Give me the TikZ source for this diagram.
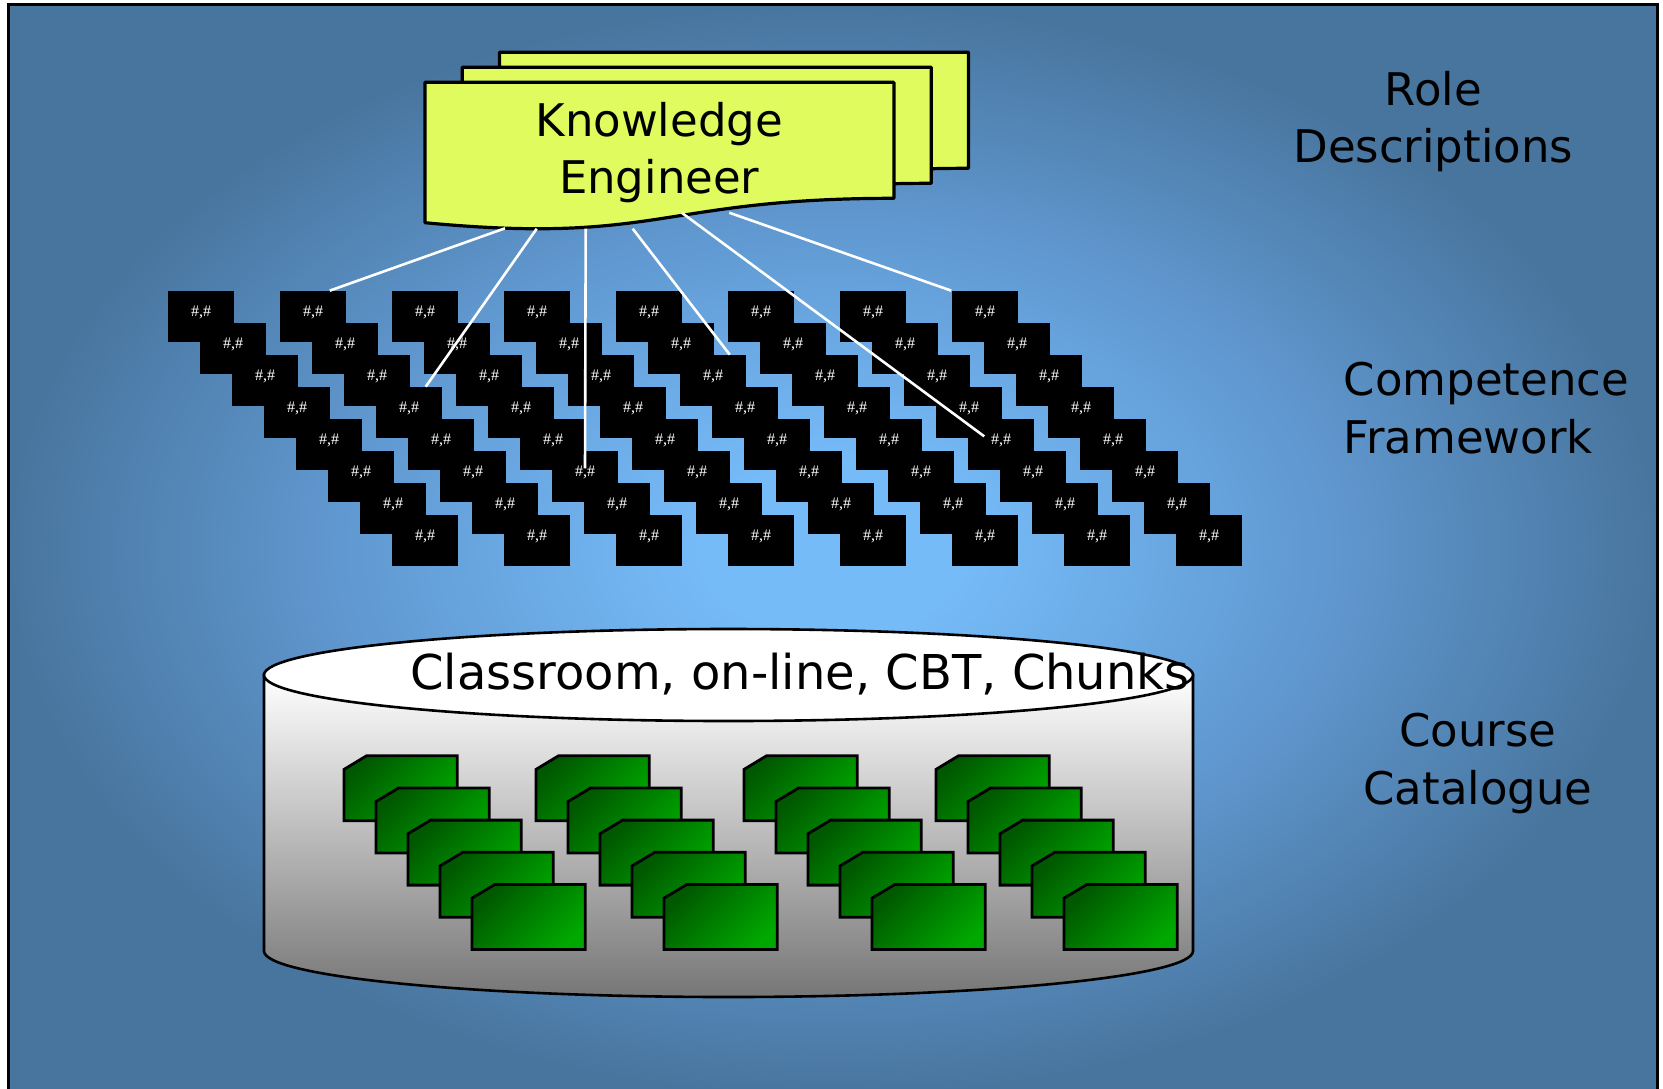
\documentclass[tikz,border=0pt]{standalone}
\usepackage{fontspec}
\setmainfont{DejaVu Sans}
\newfontfamily\hashfont{Liberation Serif}
\usetikzlibrary{%
  calc,% wg. ($(a)+(b)$)
  positioning%
}
\definecolor{bgdark}{RGB}{72,117,158}
\definecolor{bgmid}{RGB}{96,152,208}
\definecolor{bglight}{RGB}{117,187,248}
\definecolor{kefill}{RGB}{223,251,94}
\definecolor{carddark}{RGB}{0,88,0}
\definecolor{cardlight}{RGB}{0,168,0}
\definecolor{cylbottom}{RGB}{118,118,118}
% the path box covers 25bp to 75bp of a shading
\pgfdeclareradialshading{bgglow}{\pgfpoint{0bp}{0bp}}{%
  color(0bp)=(bglight); color(4bp)=(bglight); color(15bp)=(bgmid); color(25bp)=(bgdark); color(50bp)=(bgdark)}
\pgfdeclareverticalshading{cylgrad}{100bp}{%
  color(0bp)=(cylbottom); color(25bp)=(cylbottom); color(75bp)=(white); color(100bp)=(white)}
\pgfdeclarehorizontalshading{cardgrad}{100bp}{%
  color(0bp)=(carddark); color(25bp)=(carddark); color(75bp)=(cardlight); color(100bp)=(cardlight)}

\begin{document}
\begin{tikzpicture}[
    x=0.5pt, y=-0.5pt,
    cfbox/.style={fill=black, minimum width=33.35pt, minimum height=25.35pt, inner sep=0pt},
    hashtag/.style={text=white, font=\hashfont\fontsize{8pt}{8pt}\selectfont, inner sep=0pt, yshift=2pt},
    spoke/.style={draw=white, line width=1.3pt},
    page/.style={draw=black, fill=kefill, line width=1.6pt, line join=round},
    card/.style={draw=black, line width=1.4pt, shade, shading=cardgrad, shading angle=-45},
    heading/.style={font=\fontsize{22.5pt}{28.75pt}\selectfont, inner sep=0pt}
  ]
  % draw background
  \useasboundingbox (0,0) rectangle (1663,1088);
  \fill[white] (0,0) rectangle (1663,1088);
  \shade[shading=bgglow] (8,4) rectangle (1657,1096);
  \draw[line width=1.5pt] (8,4) rectangle (1657,1096);

  % draw role description pages
  \foreach \k in {2,1,0}{
    \draw[page, shift={(424.9+37.3*\k, 82.3-15*\k)}]
      (0,0) -- (469,0) -- (469,116) .. controls (234.5,116) and (234.5,162.7) .. (0,140.4) -- cycle;}
  \node[heading, align=center] (ke) at (659.2,152.7) {Knowledge\\Engineer};
  \coordinate (kb1) at (505,228.3);
  \coordinate (kb2) at (536.7,228.7);
  \coordinate (kb3) at (585.7,228.7);
  \coordinate (kb4) at (632.7,228.7);
  \coordinate (kb5) at (681.7,212.7);
  \coordinate (kb6) at (729.3,212.7);

  % draw competence framework
  \foreach \c in {0,...,7}{
    \foreach \r in {0,...,7}{
      \node[cfbox, label={[hashtag]center:{\#,\#}}] at ({201+112*\c+32*\r}, {316.4+32*\r}) (cf\c\r) {};}}

  % draw connections
  \draw[spoke] (kb1) -- ($(cf10.north east)+(-17,0)$);
  \draw[spoke] (kb2) -- ($(cf13.north east)+(-17,0)$);
  \draw[spoke] (kb3) -- ($(cf25.center)+(0,-8)$);
  \draw[spoke] (kb4) -- ($(cf42.north east)+(-17,0)$);
  \draw[spoke] (kb5) -- ($(cf64.north west)+(17,17.7)$);
  \draw[spoke] (kb6) -- (cf70.north west);

  % draw course catalogue
  \shadedraw[shading=cylgrad, line width=1.3pt] (264,675) -- (264,951)
    .. controls (264,976.4) and (472,997) .. (728.5,997)
    .. controls (985,997) and (1193,976.4) .. (1193,951) -- (1193,675) -- cycle;
  \draw[fill=white, line width=1.3pt] (728.5,675) ellipse [x radius=232.25pt, y radius=23pt];
  \node[font=\fontsize{24pt}{28pt}\selectfont, anchor=base, inner sep=0pt] (cat) at (800,689)
    {Classroom, on-line, CBT, Chunks};
  \foreach \gx in {344,536,744,936}{
    \foreach \k in {0,...,4}{
      \draw[card, shift={(\gx+32*\k, 755.7+32.2*\k)}]
        (0,13.7) -- (22.7,0) -- (113.3,0) -- (113.3,65) -- (0,65) -- cycle;}}

  % draw layer names
  \node[heading, align=center] (role) at (1433.3,121.8) {Role\\Descriptions};
  \node[heading, align=left, anchor=west] (comp) at (1343.3,408.3) {Competence\\Framework};
  \node[heading, align=center] (course) at (1478,763.6) {Course\\Catalogue};
\end{tikzpicture}
\end{document}
